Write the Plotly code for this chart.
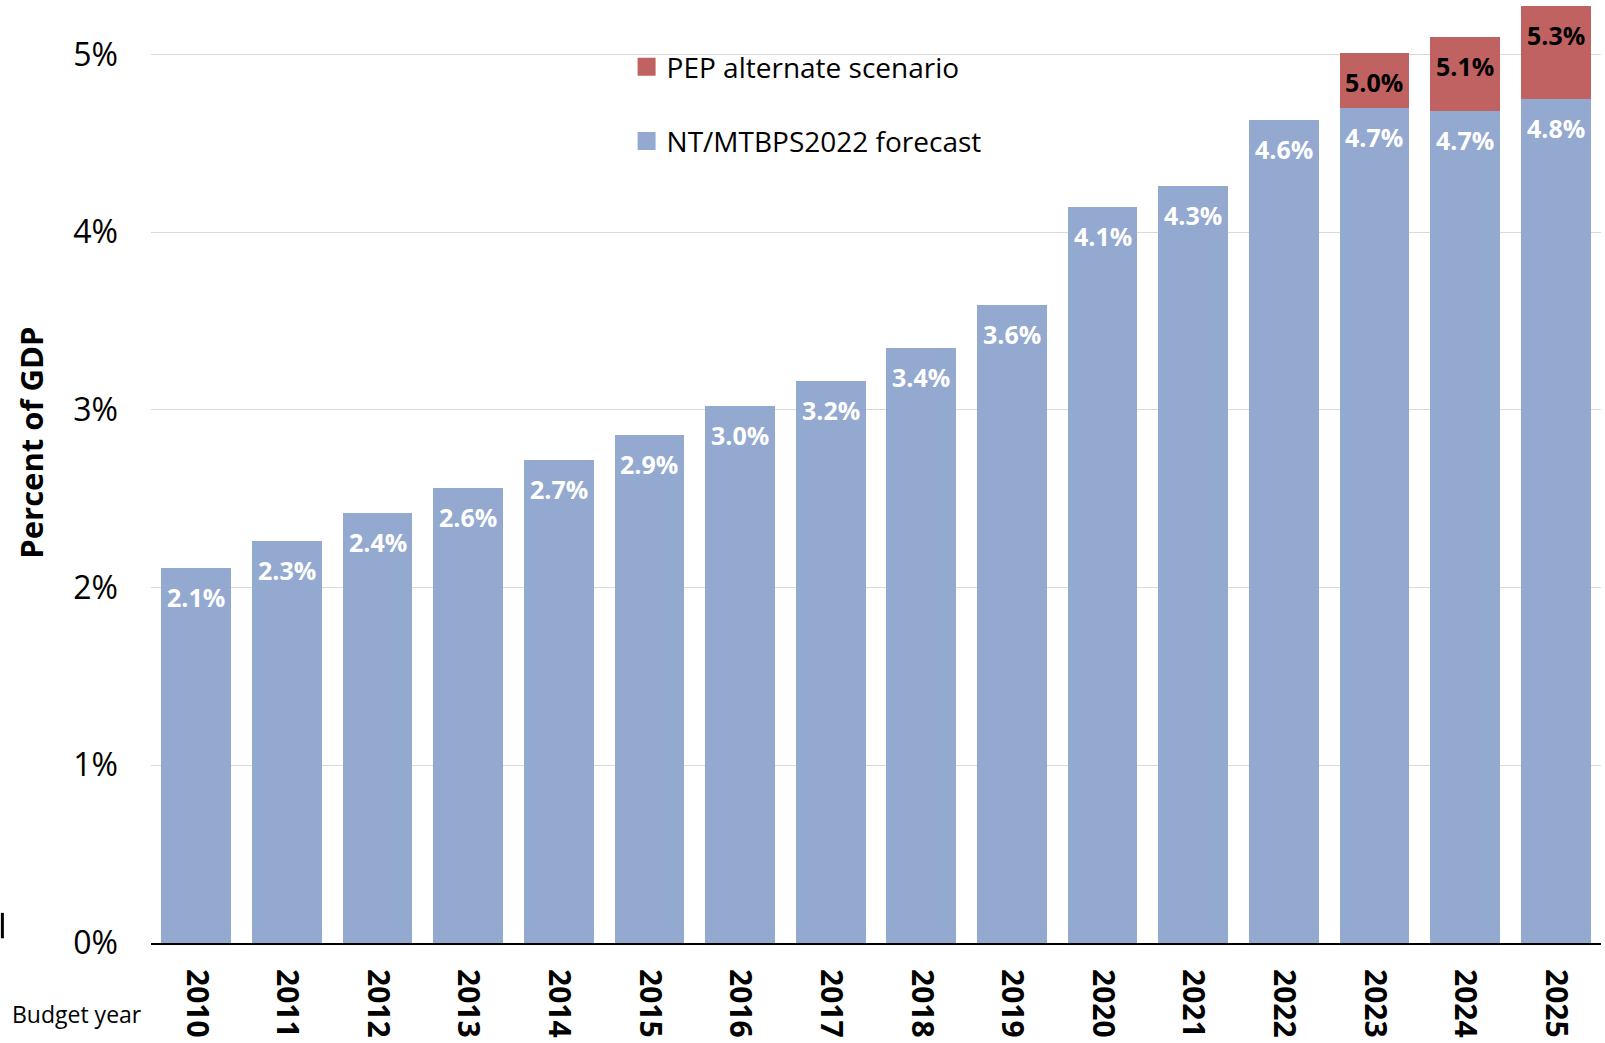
import plotly.graph_objects as go

# Budget years and tax expenditure as percent of GDP
YEARS = [str(y) for y in range(2010, 2026)]
NT_FORECAST = [2.11, 2.26, 2.42, 2.56, 2.72, 2.86, 3.02, 3.16, 3.35, 3.59,
               4.14, 4.26, 4.63, 4.70, 4.68, 4.75]
# PEP alternate scenario totals (only for the forecast years)
PEP_YEARS = ["2023", "2024", "2025"]
PEP_TOTAL = [5.01, 5.10, 5.27]

BLUE = "#94A9D0"
RED = "#C06262"
FONT = "Open Sans"

base_lookup = dict(zip(YEARS, NT_FORECAST))
pep_extra = [t - base_lookup[y] for y, t in zip(PEP_YEARS, PEP_TOTAL)]

fig = go.Figure()
fig.add_trace(
    go.Bar(
        x=YEARS,
        y=NT_FORECAST,
        name="NT/MTBPS2022 forecast",
        marker=dict(color=BLUE, line=dict(width=0)),
        showlegend=False,
        hoverinfo="skip",
    )
)
fig.add_trace(
    go.Bar(
        x=PEP_YEARS,
        y=pep_extra,
        name="PEP alternate scenario",
        marker=dict(color=RED, line=dict(width=0)),
        showlegend=False,
        hoverinfo="skip",
    )
)

# legend-only entries so the colour squares can be bigger than the bar default
for name, color, rank in [("PEP alternate scenario", RED, 1),
                          ("NT/MTBPS2022 forecast", BLUE, 2)]:
    fig.add_trace(
        go.Scatter(
            x=[None], y=[None], mode="markers", name=name, legendrank=rank,
            legendgroup=name,
            marker=dict(symbol="square", size=16, color=color,
                        line=dict(color=color, width=2)),
        )
    )

# value labels just under the top of each segment (x given as category index)
annotations = []
for year, val in zip(YEARS, NT_FORECAST):
    annotations.append(dict(
        x=YEARS.index(year), y=val, text=f"<b>{val:.1f}%</b>", showarrow=False,
        yanchor="middle", yshift=-29,
        font=dict(family=FONT, size=25, color="white"),
    ))
for year, tot in zip(PEP_YEARS, PEP_TOTAL):
    annotations.append(dict(
        x=YEARS.index(year), y=tot, text=f"<b>{tot:.1f}%</b>", showarrow=False,
        yanchor="middle", yshift=-29,
        font=dict(family=FONT, size=25, color="black"),
    ))

annotations.append(dict(
    xref="paper", yref="paper", x=-0.0825, y=0.5315, text="<b>Percent of GDP</b>",
    textangle=-90, showarrow=False, xanchor="center", yanchor="middle",
    font=dict(family=FONT, size=31, color="black"),
))
annotations.append(dict(
    xref="paper", yref="paper", x=-0.0975, y=-0.0757, text="Budget year",
    showarrow=False, xanchor="left", yanchor="middle",
    font=dict(family=FONT, size=23, color="black"),
))

fig.update_layout(
    barmode="stack",
    bargap=0.23,
    width=1605,
    height=1043,
    margin=dict(l=151, r=4, t=1, b=100),
    plot_bgcolor="white",
    paper_bgcolor="white",
    font=dict(family=FONT, color="black"),
    annotations=annotations,
    legend=dict(
        x=0.328, y=0.9565, xanchor="left", yanchor="top",
        traceorder="grouped", tracegroupgap=35, itemsizing="trace",
        font=dict(family=FONT, size=28, color="black"),
        bgcolor="rgba(0,0,0,0)",
    ),
    shapes=[dict(
        type="line", xref="paper", yref="paper",
        x0=-0.1025, x1=-0.1025, y0=0.005, y1=0.032,
        line=dict(color="black", width=3),
    )],
    xaxis=dict(
        type="category",
        range=[-0.5, len(YEARS) - 0.5],
        tickangle=90,
        tickfont=dict(family=FONT, size=30, color="black", weight="bold"),
        showline=True, linecolor="black", linewidth=2,
        ticks="", ticklabelstandoff=18, automargin=False,
    ),
    yaxis=dict(
        range=[0, 5.3],
        tickvals=[0, 1, 2, 3, 4, 5],
        ticktext=["0%", "1%", "2%", "3%", "4%", "5%"],
        tickfont=dict(family=FONT, size=32, color="black"),
        showgrid=True, gridcolor="#D9D9D9", gridwidth=1,
        zeroline=False, showline=False, ticks="", ticklabelstandoff=32,
        automargin=False,
    ),
)

# drop the browser's default page margin so the figure sits at the top-left corner
fig.write_html(
    "out.html",
    config={"displayModeBar": False},
    post_script="document.body.style.margin='0';",
)
